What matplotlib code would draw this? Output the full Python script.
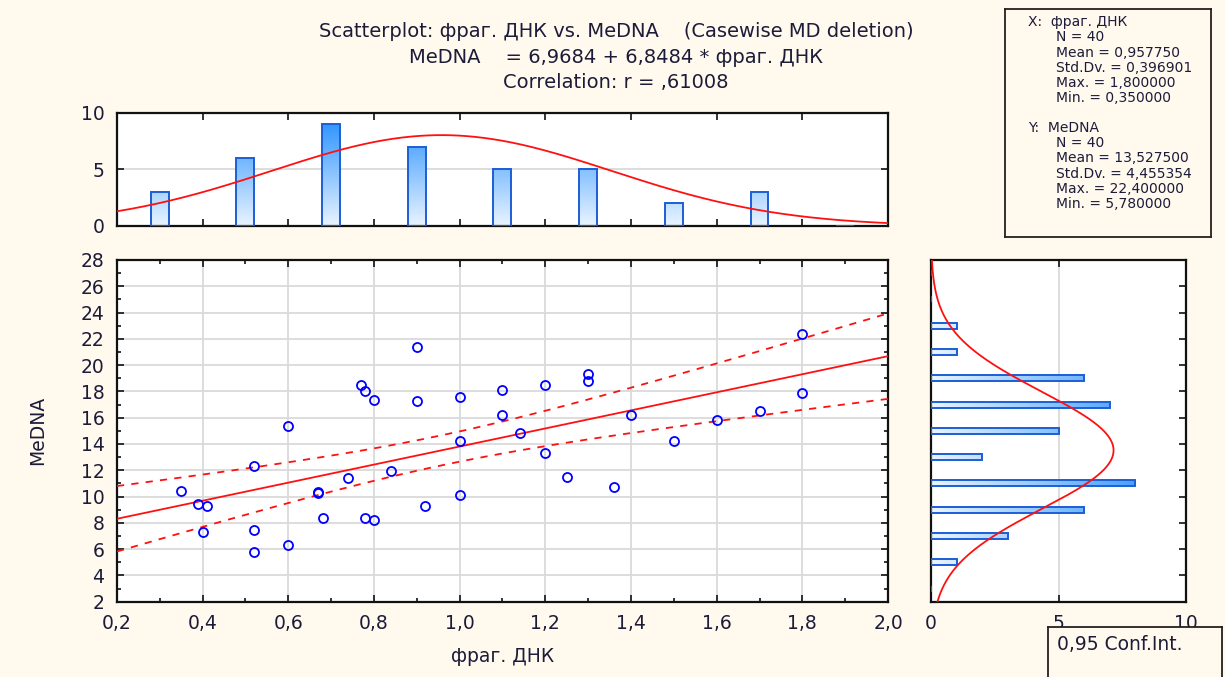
import numpy as np
import matplotlib
matplotlib.use("Agg")
import matplotlib.pyplot as plt
from matplotlib.colors import LinearSegmentedColormap
from matplotlib.ticker import MultipleLocator, FuncFormatter

plt.rcParams['font.family'] = ['DejaVu Sans']

# data (40 cases)
frag_dnk = [0.35, 0.39, 0.41, 0.40, 0.52, 0.52, 0.52, 0.60, 0.60, 0.67,
            0.67, 0.68, 0.74, 0.77, 0.78, 0.80, 0.78, 0.80, 0.84, 0.90,
            0.90, 0.92, 1.00, 1.00, 1.00, 1.10, 1.10, 1.14, 1.20, 1.20,
            1.25, 1.30, 1.30, 1.36, 1.40, 1.50, 1.60, 1.70, 1.80, 1.80]
medna = [10.45, 9.40, 9.30, 7.33, 12.30, 7.43, 5.78, 15.40, 6.30, 10.35,
         10.30, 8.37, 11.40, 18.50, 18.06, 17.35, 8.40, 8.20, 11.94, 21.40,
         17.25, 9.30, 17.60, 14.20, 10.15, 18.10, 16.20, 14.86, 18.50, 13.30,
         11.50, 19.30, 18.80, 10.70, 16.20, 14.20, 15.80, 16.50, 22.40, 17.90]

x_edges = np.round(np.arange(0.2, 2.0001, 0.2), 6)
y_edges = np.round(np.arange(2, 28.001, 2), 6)

title_lines = ["Scatterplot: фраг. ДНК vs. MeDNA    (Casewise MD deletion)",
               "MeDNA    = 6,9684 + 6,8484 * фраг. ДНК",
               "Correlation: r = ,61008"]
stats_x = ["X:  фраг. ДНК", "N = 40", "Mean = 0,957750", "Std.Dv. = 0,396901",
           "Max. = 1,800000", "Min. = 0,350000"]
stats_y = ["Y:  MeDNA", "N = 40", "Mean = 13,527500", "Std.Dv. = 4,455354",
           "Max. = 22,400000", "Min. = 5,780000"]

BG = '#FFF9EE'
RED = '#FF1010'
TXT = '#1C1C3A'
EDGE = '#1C5ED6'

x = np.array(frag_dnk)
y = np.array(medna)
n = len(x)


def right_closed_counts(v, edges):
    idx = np.searchsorted(edges, np.round(v, 6), side='left') - 1
    return np.bincount(idx, minlength=len(edges) - 1)


x_counts = right_closed_counts(x, x_edges)
y_counts = right_closed_counts(y, y_edges)

# regression + 95% confidence band
b1, b0 = np.polyfit(x, y, 1)
xbar = x.mean()
sxx = ((x - xbar) ** 2).sum()
s = np.sqrt(((y - (b0 + b1 * x)) ** 2).sum() / (n - 2))
t95 = 2.0244
xx = np.linspace(0.2, 2.0, 200)
fit = b0 + b1 * xx
half = t95 * s * np.sqrt(1 / n + (xx - xbar) ** 2 / sxx)

fig = plt.figure(figsize=(12.25, 6.77), dpi=100, facecolor=BG)

ax = fig.add_axes([0.0955, 0.1112, 0.6294, 0.5048])
axt = fig.add_axes([0.0955, 0.6662, 0.6294, 0.1669])
axr = fig.add_axes([0.7600, 0.1112, 0.2082, 0.5048])

fmt_comma = FuncFormatter(lambda v, p: f"{v:.1f}".replace('.', ','))

for a in (ax, axt, axr):
    a.set_facecolor('white')
    for sp in a.spines.values():
        sp.set_linewidth(1.6)
        sp.set_color('#111111')
    a.tick_params(which='both', direction='in', colors='#111111', labelcolor=TXT,
                  labelsize=13.5, width=1.2)
    a.tick_params(which='major', length=5)
    a.tick_params(which='minor', length=3)
    a.tick_params(axis='y', pad=9)

# --- scatter ---
ax.set_xlim(0.2, 2.0)
ax.set_ylim(2, 28)
ax.xaxis.set_major_locator(MultipleLocator(0.2))
ax.xaxis.set_minor_locator(MultipleLocator(0.1))
ax.yaxis.set_major_locator(MultipleLocator(2))
ax.yaxis.set_minor_locator(MultipleLocator(1))
ax.xaxis.set_major_formatter(fmt_comma)
ax.tick_params(which='both', top=True, right=True)
ax.tick_params(axis='x', pad=9)
ax.grid(True, which='major', color='#DADADA', lw=1.3)
ax.set_axisbelow(True)
ax.plot(xx, fit, color=RED, lw=1.3, zorder=3)
ax.plot(xx, fit + half, color=RED, lw=1.3, ls=(0, (4, 4)), zorder=3)
ax.plot(xx, fit - half, color=RED, lw=1.3, ls=(0, (4, 4)), zorder=3)
ax.plot(x, y, 'o', ms=6.5, mfc='none', mec='#0000FF', mew=1.3, zorder=4)
ax.set_xlabel("фраг. ДНК", fontsize=13.5, color=TXT, labelpad=10)
ax.set_ylabel("MeDNA", fontsize=13.5, color=TXT, labelpad=24)

# --- top histogram ---
cmap_v = LinearSegmentedColormap.from_list('v', ['#EAF4FF', '#1E8CFF'])
grad = np.linspace(0, 1, 256).reshape(-1, 1)
centers = (x_edges[:-1] + x_edges[1:]) / 2
bars = axt.bar(centers, x_counts, width=0.042, facecolor='none',
               edgecolor=EDGE, lw=1.4, zorder=3)
for b in bars:
    im = axt.imshow(grad, extent=[b.get_x(), b.get_x() + b.get_width(), 0, 10],
                    origin='lower', cmap=cmap_v, aspect='auto', zorder=2)
    im.set_clip_path(b)
xt = np.linspace(0.2, 2.0, 400)
sx = x.std(ddof=1)
axt.plot(xt, n * 0.2 * np.exp(-0.5 * ((xt - xbar) / sx) ** 2) / (sx * np.sqrt(2 * np.pi)),
         color=RED, lw=1.3, zorder=4)
axt.set_xlim(0.2, 2.0)
axt.set_ylim(0, 10)
axt.xaxis.set_major_locator(MultipleLocator(0.2))
axt.set_yticks([0, 5, 10])
axt.tick_params(axis='x', which='both', top=True, labelbottom=False)
axt.tick_params(axis='y', right=True)
axt.grid(True, axis='y', color='#DADADA', lw=1.3)
axt.set_axisbelow(True)

# --- right histogram ---
cmap_h = LinearSegmentedColormap.from_list('h', ['#EAF4FF', '#1E8CFF'])
grad_h = np.linspace(0, 1, 256).reshape(1, -1)
ycent = (y_edges[:-1] + y_edges[1:]) / 2
hbars = axr.barh(ycent, y_counts, height=0.45, facecolor='none',
                 edgecolor=EDGE, lw=1.4, zorder=3)
for b in hbars:
    im = axr.imshow(grad_h, extent=[0, 10, b.get_y(), b.get_y() + b.get_height()],
                    origin='lower', cmap=cmap_h, aspect='auto', zorder=2)
    im.set_clip_path(b)
yt = np.linspace(2, 28, 400)
sy = y.std(ddof=1)
axr.plot(n * 2 * np.exp(-0.5 * ((yt - y.mean()) / sy) ** 2) / (sy * np.sqrt(2 * np.pi)),
         yt, color=RED, lw=1.3, zorder=4)
axr.set_xlim(0, 10)
axr.set_ylim(2, 28)
axr.set_xticks([0, 5, 10])
axr.yaxis.set_major_locator(MultipleLocator(2))
axr.tick_params(axis='y', left=False, right=True, labelleft=False)
axr.tick_params(axis='x', top=True, pad=9)
axr.grid(True, axis='x', color='#DADADA', lw=1.3)
axr.set_axisbelow(True)

# --- title ---
for i, line in enumerate(title_lines):
    fig.text(0.503, 0.953 - i * 0.0375, line, ha='center', va='center',
             fontsize=14, color=TXT)

# --- stats box ---
axs = fig.add_axes([0.8204, 0.6499, 0.1682, 0.3368])
axs.set_facecolor(BG)
axs.set_xticks([])
axs.set_yticks([])
for sp in axs.spines.values():
    sp.set_linewidth(1.3)
    sp.set_color('#222222')
for j, block in enumerate((stats_x, stats_y)):
    for i, line in enumerate(block):
        yy = 0.942 - (j * 7 + i) * 0.0664
        xpos = 0.11 if i == 0 else 0.248
        axs.text(xpos, yy, line, transform=axs.transAxes, fontsize=10,
                 color=TXT, va='center', ha='left')

# --- conf. int. box ---
axc = fig.add_axes([0.8555, -0.02, 0.142, 0.094])
axc.set_facecolor(BG)
axc.set_xticks([])
axc.set_yticks([])
for sp in axc.spines.values():
    sp.set_linewidth(1.3)
    sp.set_color('#222222')
axc.text(0.05, 0.72, "0,95 Conf.Int.", transform=axc.transAxes, fontsize=13.5,
         color=TXT, va='center', ha='left')

fig.savefig("out.png", dpi=100, facecolor=BG)
